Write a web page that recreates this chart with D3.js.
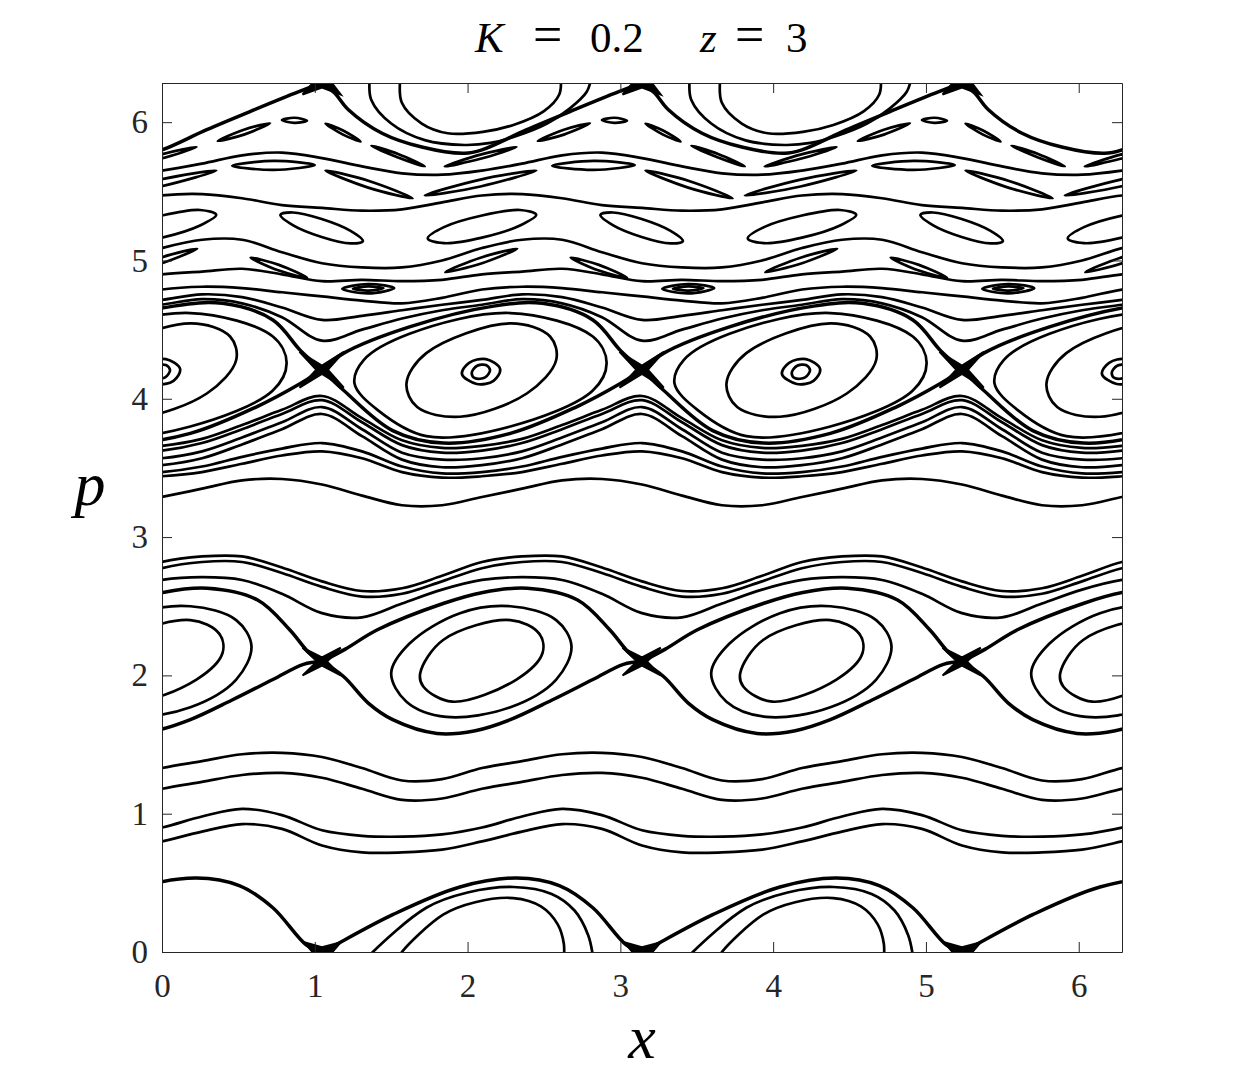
<!DOCTYPE html>
<html>
<head>
<meta charset="utf-8">
<script src="https://d3js.org/d3.v7.min.js"></script>
<style>
  body { margin: 0; background: #fff; }
  svg text { font-family: 'Liberation Serif', 'DejaVu Serif', serif; }
</style>
</head>
<body>
<svg id="chart" width="1240" height="1088"></svg>
<script>
// axis ticks
const xTicks = [0, 1, 2, 3, 4, 5, 6];
const pTicks = [0, 1, 2, 3, 4, 5, 6];

// the section repeats three times across x
const T = 2 * Math.PI / 3;
const periodShift = [-1, 0, 1, 2, 3];
// orbits of the island at p = 0 / 2pi only show up in two of the three copies
const arcShift = [0, 1];

// rotational (KAM) curves: p read at these x positions inside one period
const phaseX = [0, 0.262, 0.524, 0.785, 1.047, 1.309, 1.571, 1.833];
const curveD  = [0.80, 0.87, 0.925, 0.89, 0.77, 0.72, 0.72, 0.74];
const curveC  = [0.90, 0.98, 1.035, 0.99, 0.88, 0.84, 0.834, 0.85];
const curveB  = [1.18, 1.23, 1.28, 1.295, 1.26, 1.18, 1.10, 1.11];
const curveA  = [1.33, 1.38, 1.43, 1.44, 1.41, 1.33, 1.24, 1.25];
const curveE3 = [2.69, 2.71, 2.69, 2.59, 2.45, 2.42, 2.52, 2.62];
const curveE2 = [2.775, 2.82, 2.82, 2.74, 2.64, 2.57, 2.59, 2.68];
const curveE1 = [2.82, 2.86, 2.86, 2.78, 2.68, 2.61, 2.63, 2.72];
const curveR  = [3.29, 3.35, 3.41, 3.42, 3.38, 3.30, 3.23, 3.23];
const curveU6 = [3.44, 3.47, 3.53, 3.59, 3.62, 3.57, 3.47, 3.43];
const curveU5 = [3.47, 3.51, 3.58, 3.64, 3.68, 3.62, 3.51, 3.46];
const curveU4 = [3.52, 3.57, 3.67, 3.78, 3.89, 3.73, 3.56, 3.505];
const curveU3 = [3.57, 3.62, 3.72, 3.83, 3.94, 3.78, 3.61, 3.56];
const curveU2 = [3.625, 3.68, 3.78, 3.89, 3.99, 3.83, 3.665, 3.61];
const curveU1 = [3.66, 3.71, 3.81, 3.92, 4.02, 3.86, 3.70, 3.645];
const curveV1 = [4.68, 4.72, 4.69, 4.59, 4.42, 4.50, 4.58, 4.64];
const curveV1b = [4.715, 4.755, 4.735, 4.66, 4.57, 4.60, 4.64, 4.68];
const curveV2 = [4.79, 4.81, 4.80, 4.77, 4.74, 4.71, 4.69, 4.73];
const curveV3 = [4.90, 4.92, 4.94, 4.90, 4.85, 4.86, 4.85, 4.86];
const curveW1 = [5.09, 5.15, 5.15, 5.06, 4.98, 4.95, 4.95, 5.00];
const curveW2 = [5.47, 5.48, 5.45, 5.40, 5.38, 5.36, 5.37, 5.42];
const curveW3 = [5.65, 5.70, 5.76, 5.78, 5.74, 5.68, 5.63, 5.62];
const rotCurves = [curveD, curveC, curveB, curveA, curveE3, curveE2, curveE1, curveR,
  curveU6, curveU5, curveU4, curveU3, curveU2, curveU1,
  curveV1, curveV1b, curveV2, curveV3, curveW1, curveW2, curveW3];

// separatrices, X-point to X-point, [x, p]
const sepBottom = [[1.047, 0], [1.1, 0.03], [1.51, 0.27], [1.95, 0.47], [2.32, 0.535], [2.6, 0.48], [2.82, 0.32], [3.04, 0.05], [3.141, 0]];
const sep21Top = [[1.047, 2.10], [1.2, 2.19], [1.41, 2.33], [1.84, 2.52], [2.1, 2.60], [2.39, 2.63], [2.72, 2.545], [2.93, 2.33], [3.06, 2.16], [3.141, 2.10]];
const sep21Bot = [[1.047, 2.10], [1.19, 1.99], [1.35, 1.80], [1.51, 1.68], [1.80, 1.58], [2.05, 1.60], [2.28, 1.68], [2.55, 1.82], [2.82, 1.97], [3.02, 2.08], [3.141, 2.10]];
const sep42Top = [[1.047, 4.21], [1.19, 4.33], [1.62, 4.52], [2.17, 4.67], [2.49, 4.69], [2.82, 4.57], [3.00, 4.35], [3.141, 4.21]];
const sep42Bot = [[1.047, 4.21], [1.19, 4.06], [1.51, 3.77], [1.84, 3.68], [2.28, 3.75], [2.71, 3.94], [3.00, 4.11], [3.141, 4.21]];
const sepTop = [[1.047, 6.283], [1.13, 6.21], [1.22, 6.09], [1.44, 5.92], [1.70, 5.82], [1.98, 5.775], [2.094, 5.80], [2.384, 5.944], [2.70, 6.09], [2.99, 6.22], [3.141, 6.283]];
const separatrices = [sepBottom, sep21Top, sep21Bot, sep42Top, sep42Bot, sepTop];

// open arcs of the island that wraps p = 0 / 2pi
const arcBottom1 = [[1.35, -0.04], [1.38, 0], [1.73, 0.32], [2.0, 0.43], [2.30, 0.47], [2.55, 0.42], [2.70, 0.30], [2.79, 0.12], [2.82, -0.03]];
const arcBottom2 = [[1.55, -0.04], [1.57, 0], [1.84, 0.27], [2.05, 0.36], [2.30, 0.39], [2.48, 0.33], [2.59, 0.20], [2.63, 0.06], [2.63, -0.04]];
const arcTop1 = [[1.36, 6.32], [1.37, 6.16], [1.50, 5.99], [1.72, 5.87], [1.98, 5.835], [2.15, 5.85], [2.32, 5.90], [2.52, 5.99], [2.67, 6.10], [2.78, 6.22], [2.81, 6.32]];
const arcTop2 = [[1.56, 6.32], [1.57, 6.14], [1.70, 5.99], [1.87, 5.92], [2.10, 5.93], [2.30, 5.98], [2.50, 6.08], [2.60, 6.20], [2.61, 6.32]];
const arcs = [arcBottom1, arcBottom2, arcTop1, arcTop2];

// closed island curves
const island21a = [[1.50, 2.015], [1.62, 2.23], [1.95, 2.45], [2.28, 2.50], [2.58, 2.40], [2.68, 2.21], [2.58, 1.97], [2.28, 1.77], [1.86, 1.70], [1.60, 1.81]];
const island21b = [[1.69, 2.015], [1.84, 2.256], [2.28, 2.40], [2.47, 2.30], [2.49, 2.16], [2.32, 1.97], [1.90, 1.81], [1.71, 1.92]];
const island42a = [[1.26, 4.11], [1.32, 4.28], [1.62, 4.47], [2.28, 4.62], [2.82, 4.45], [2.91, 4.26], [2.82, 4.06], [2.28, 3.80], [1.73, 3.73], [1.41, 3.92]];
const island42b = [[1.60, 4.11], [1.73, 4.33], [2.28, 4.545], [2.54, 4.45], [2.58, 4.28], [2.39, 4.04], [1.95, 3.87], [1.67, 3.94]];
const ring42a = [[1.963, 4.18], [2.01, 4.26], [2.12, 4.287], [2.213, 4.215], [2.17, 4.13], [2.06, 4.107]];
const ring42b = [[2.027, 4.185], [2.06, 4.237], [2.12, 4.244], [2.147, 4.207], [2.115, 4.155], [2.05, 4.148]];
const lensC1 = [[1.18, 4.795], [1.35, 4.83], [1.52, 4.80], [1.35, 4.762]];
const lensC2 = [[1.25, 4.796], [1.35, 4.812], [1.45, 4.80], [1.35, 4.782]];
const lensA = [[-0.24, 4.915], [-0.01, 5.02], [0.23, 5.085], [0.0, 4.98]];
const lensB = [[0.58, 5.02], [0.765, 4.968], [0.95, 4.875], [0.765, 4.927]];
const ellipseA = [[0.355, 5.33], [0.249, 5.365], [0, 5.325], [-0.249, 5.241], [-0.355, 5.16], [-0.249, 5.125], [0, 5.165], [0.249, 5.253]];
const ellipseB = [[1.315, 5.14], [1.234, 5.214], [1.045, 5.30], [0.856, 5.347], [0.775, 5.33], [0.856, 5.256], [1.045, 5.17], [1.234, 5.123]];
const lensD = [[1.07, 5.65], [1.355, 5.575], [1.64, 5.45], [1.355, 5.525]];
const lensE = [[-0.374, 5.47], [-0.01, 5.585], [0.356, 5.65], [-0.01, 5.535]];
const lensF = [[0.46, 5.685], [0.73, 5.72], [1.0, 5.69], [0.73, 5.655]];
const lensG = [[-0.244, 5.68], [-0.01, 5.765], [0.226, 5.82], [-0.01, 5.735]];
const lensH = [[1.37, 5.83], [1.545, 5.77], [1.72, 5.68], [1.545, 5.745]];
const lensI = [[0.365, 5.864], [0.536, 5.945], [0.707, 5.992], [0.536, 5.91]];
const lensJ = [[0.785, 6.015], [0.867, 6.032], [0.949, 6.01], [0.867, 5.995]];
const lensK = [[1.07, 5.99], [1.185, 5.94], [1.30, 5.86], [1.185, 5.91]];
const islands = [island21a, island21b, island42a, island42b, ring42a, ring42b,
  lensC1, lensC2, lensA, lensB, ellipseA, ellipseB, lensD, lensE, lensF, lensG, lensH, lensI, lensJ, lensK];

// chaotic tangles around the X-points
const star21 = [[0.92, 2.20], [1.047, 2.13], [1.17, 2.20], [1.08, 2.10], [1.17, 2.00], [1.047, 2.07], [0.92, 2.00], [1.015, 2.10]];
const star42 = [[0.90, 4.34], [1.047, 4.24], [1.19, 4.34], [1.085, 4.21], [1.19, 4.08], [1.047, 4.18], [0.90, 4.08], [1.01, 4.21]];
const starTop = [[0.92, 6.20], [1.047, 6.25], [1.17, 6.20], [1.10, 6.30], [1.0, 6.30]];
const starBottom = [[0.93, 0.07], [1.047, 0.035], [1.17, 0.07], [1.10, -0.02], [1.0, -0.02]];
const stars = [star21, star42, starTop, starBottom];

const svg = d3.select('#chart');
const x = d3.scaleLinear().domain([0, 2 * Math.PI]).range([162, 1122]);
const y = d3.scaleLinear().domain([0, 2 * Math.PI]).range([952, 83]);

svg.append('defs').append('clipPath').attr('id', 'plotclip')
  .append('rect')
  .attr('x', x(0)).attr('y', y(2 * Math.PI))
  .attr('width', x(2 * Math.PI) - x(0)).attr('height', y(0) - y(2 * Math.PI));

const openLine = d3.line().x(d => x(d[0])).y(d => y(d[1])).curve(d3.curveCatmullRom.alpha(0.5));
const closedLine = d3.line().x(d => x(d[0])).y(d => y(d[1])).curve(d3.curveCatmullRomClosed.alpha(0.5));
const polyLine = d3.line().x(d => x(d[0])).y(d => y(d[1])).curve(d3.curveLinearClosed);
const shift = (pts, k) => pts.map(d => [d[0] + k * T, d[1]]);

const plot = svg.append('g').attr('clip-path', 'url(#plotclip)');

// rotational curves across the whole width
plot.selectAll('path.rot')
  .data(rotCurves)
  .enter().append('path')
  .attr('class', 'rot')
  .attr('d', vals => openLine(periodShift.flatMap(k => phaseX.map((px, i) => [px + k * T, vals[i]]))))
  .attr('fill', 'none').attr('stroke', '#000').attr('stroke-width', 2.7);

periodShift.forEach(k => {
  plot.selectAll(null).data(islands).enter().append('path')
    .attr('d', d => closedLine(shift(d, k)))
    .attr('fill', 'none').attr('stroke', '#000').attr('stroke-width', 2.7);

  plot.selectAll(null).data(separatrices).enter().append('path')
    .attr('d', d => openLine(shift(d, k)))
    .attr('fill', 'none').attr('stroke', '#000').attr('stroke-width', 3.5);

  plot.selectAll(null).data(stars).enter().append('path')
    .attr('d', d => polyLine(shift(d, k)))
    .attr('fill', '#000').attr('stroke', '#000').attr('stroke-width', 2);
});

arcShift.forEach(k => {
  plot.selectAll(null).data(arcs).enter().append('path')
    .attr('d', d => openLine(shift(d, k)))
    .attr('fill', 'none').attr('stroke', '#000').attr('stroke-width', 2.7);
});

// axes, MATLAB style box with inward ticks
const axisColor = '#262626';
const fontSerif = "'Liberation Serif', 'DejaVu Serif', serif";
const gx = svg.append('g').attr('transform', 'translate(0,' + y(0) + ')')
  .call(d3.axisBottom(x).tickValues(xTicks).tickSize(-10).tickSizeOuter(0).tickPadding(22).tickFormat(d3.format('d')));
const gy = svg.append('g').attr('transform', 'translate(' + x(0) + ',0)')
  .call(d3.axisLeft(y).tickValues(pTicks).tickSize(-10).tickSizeOuter(0).tickPadding(14).tickFormat(d3.format('d')));
const gxt = svg.append('g').attr('transform', 'translate(0,' + y(2 * Math.PI) + ')')
  .call(d3.axisTop(x).tickValues(xTicks).tickSize(-10).tickSizeOuter(0).tickFormat(''));
const gyr = svg.append('g').attr('transform', 'translate(' + x(2 * Math.PI) + ',0)')
  .call(d3.axisRight(y).tickValues(pTicks).tickSize(-10).tickSizeOuter(0).tickFormat(''));
[gx, gy, gxt, gyr].forEach(g => {
  g.attr('font-family', fontSerif);
  g.selectAll('path, line').attr('stroke', axisColor).attr('stroke-width', 1);
  g.selectAll('text').style('font-family', fontSerif).attr('font-size', 33).attr('fill', axisColor);
});

// title, pieces placed like the LaTeX spacing
const title = svg.append('text').attr('y', 52).attr('font-size', 43).attr('fill', '#000')
  .style('font-family', fontSerif);
title.append('tspan').attr('x', 475).attr('font-style', 'italic').text('K');
title.append('tspan').attr('x', 533).attr('font-size', 52).text('=');
title.append('tspan').attr('x', 590).text('0.2');
title.append('tspan').attr('x', 700).attr('font-style', 'italic').text('z');
title.append('tspan').attr('x', 735).attr('font-size', 52).text('=');
title.append('tspan').attr('x', 786).text('3');

// axis labels
svg.append('text')
  .attr('x', 642).attr('y', 1058)
  .attr('text-anchor', 'middle')
  .style('font-family', fontSerif)
  .attr('font-size', 62).attr('font-style', 'italic').attr('fill', '#000')
  .text('x');
svg.append('text')
  .attr('x', 90).attr('y', 505)
  .attr('text-anchor', 'middle')
  .style('font-family', fontSerif)
  .attr('font-size', 62).attr('font-style', 'italic').attr('fill', '#000')
  .text('p');
</script>
</body>
</html>
